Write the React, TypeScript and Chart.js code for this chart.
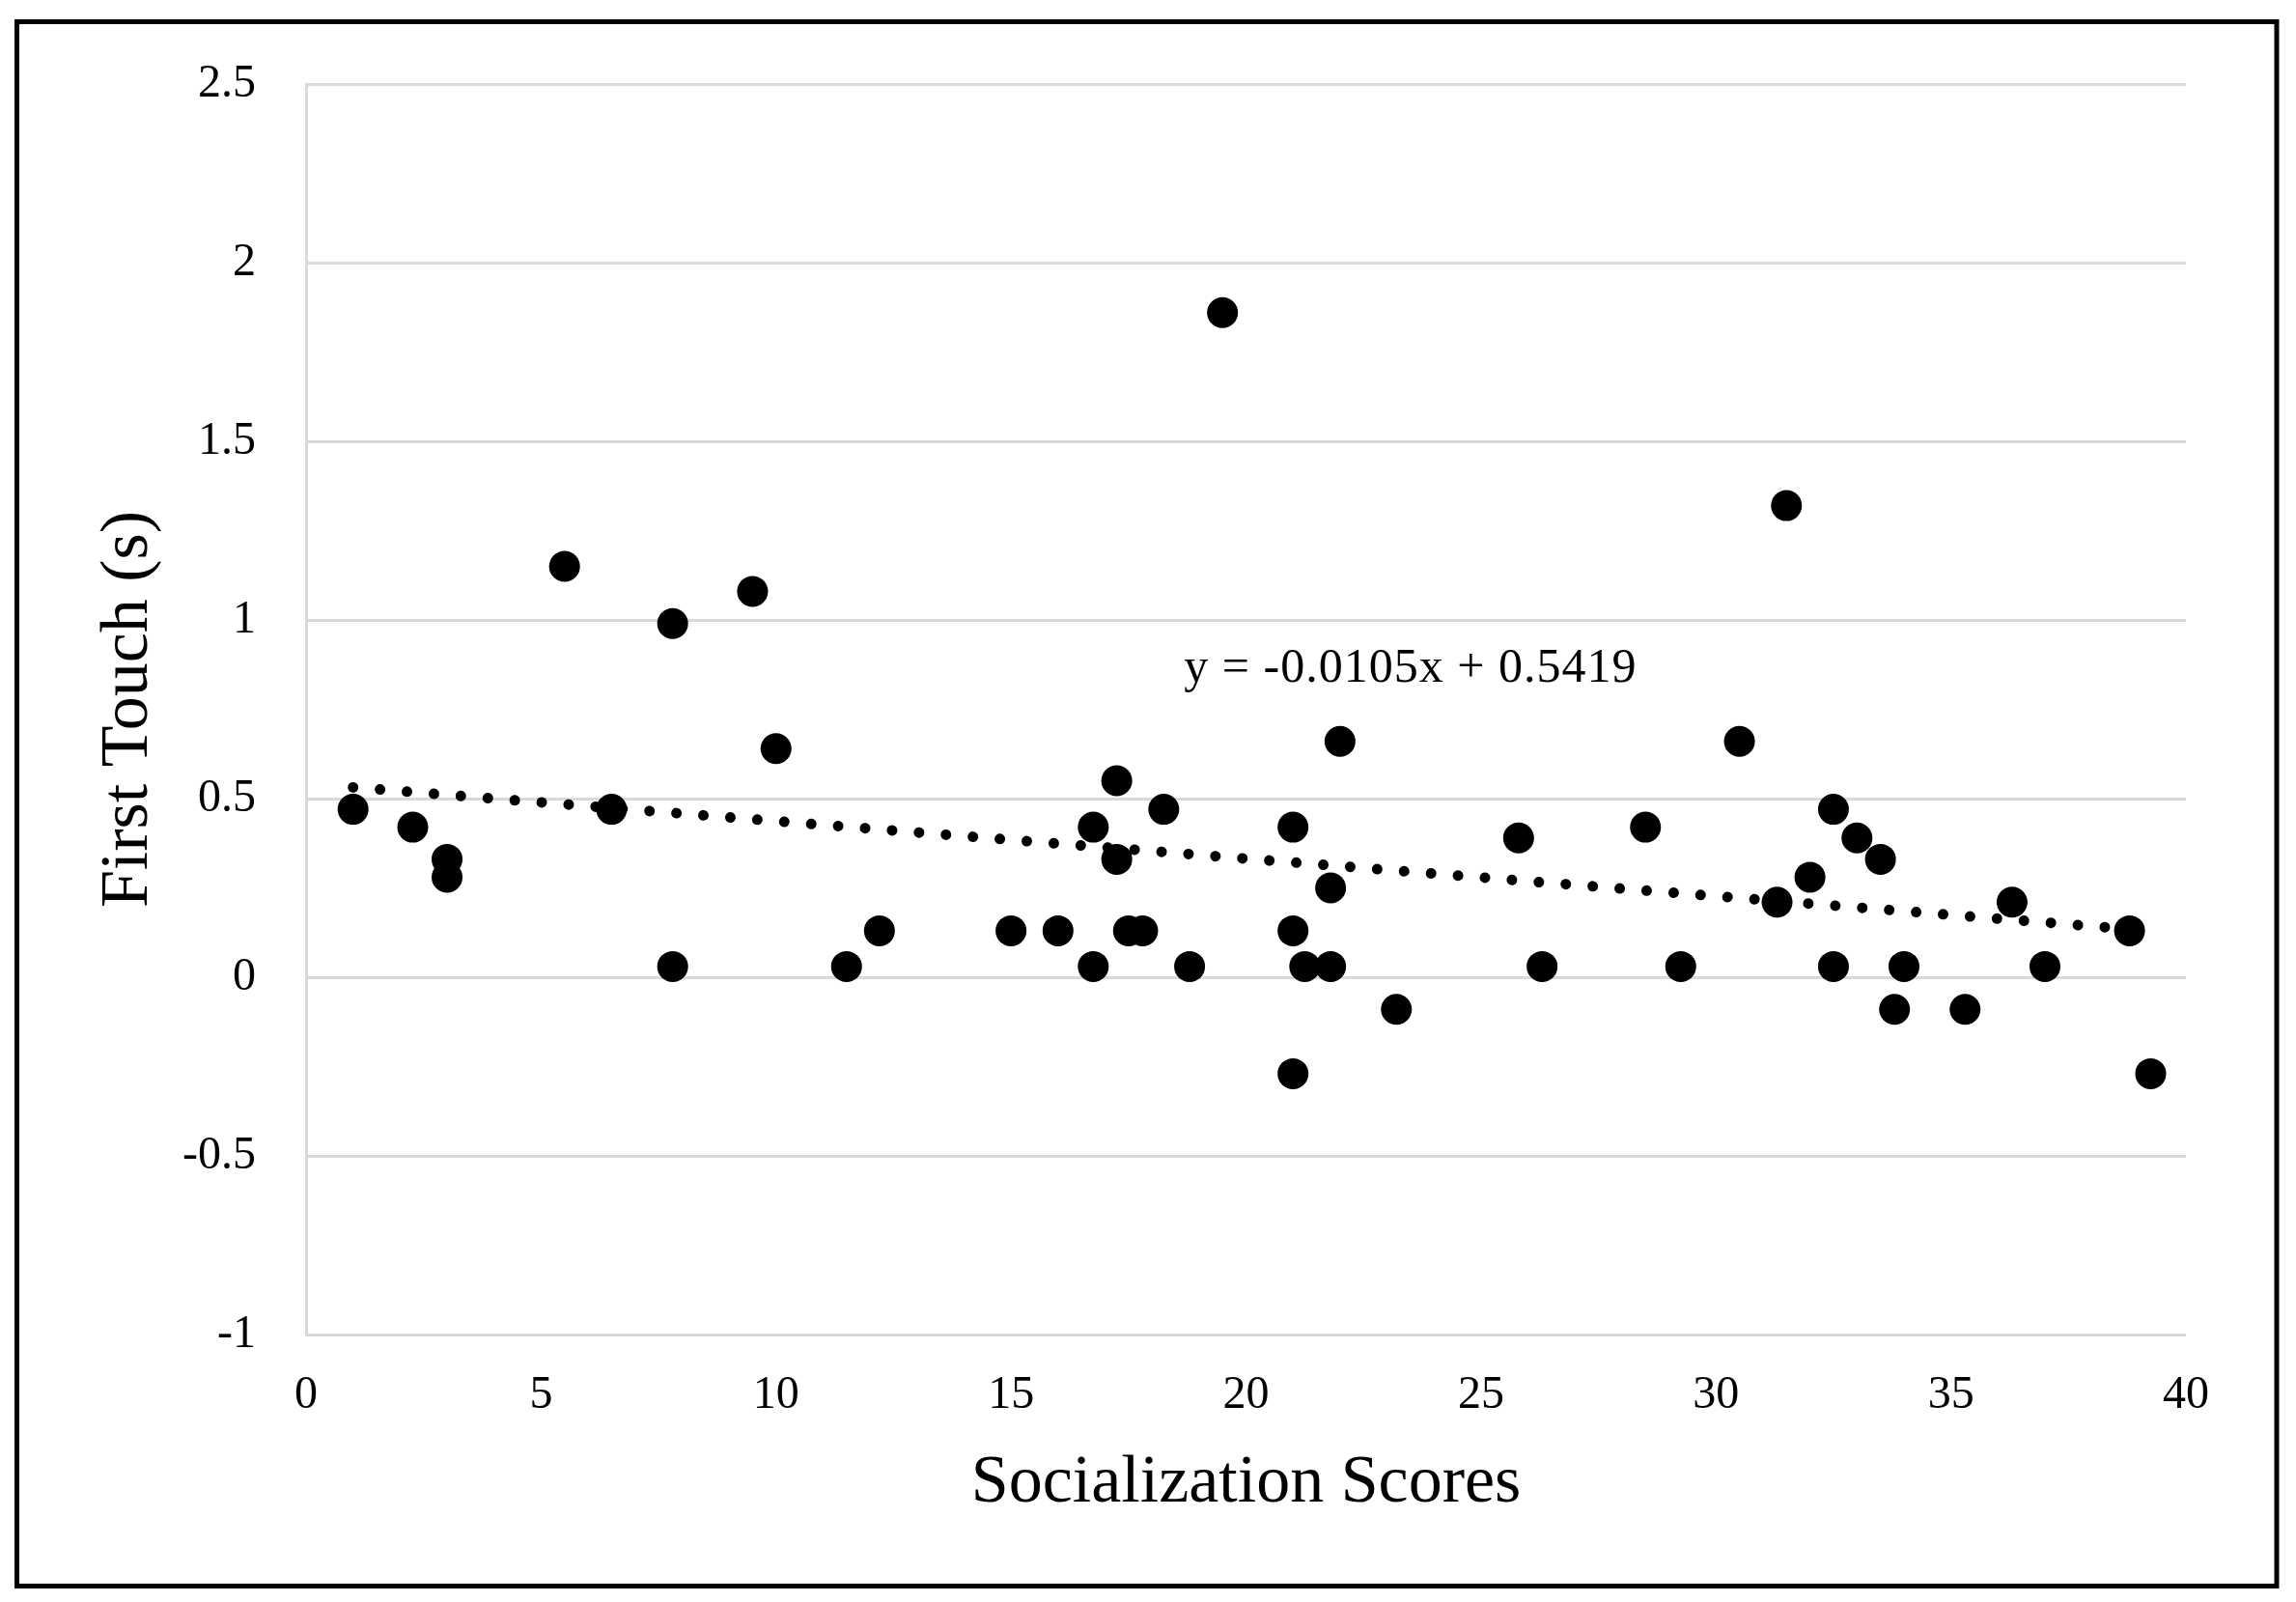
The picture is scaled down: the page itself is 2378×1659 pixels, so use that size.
import React, { useEffect, useRef } from "react";
import { Chart, registerables } from "chart.js";

Chart.register(...registerables);

// ---- Data ----
const socializationScores = [
  1, 2.27, 3, 3, 5.5, 6.5, 7.8, 7.8, 9.5, 10,
  11.5, 12.2, 15, 16, 16.75, 16.75, 17.25, 17.25, 17.5, 17.8,
  18.25, 18.8, 19.5, 21, 21, 21, 21.25, 21.8, 21.8, 22,
  23.2, 25.8, 26.3, 28.5, 29.25, 30.5, 31.3, 31.5, 32, 32.5,
  32.5, 33, 33.5, 33.8, 34, 35.3, 36.3, 37, 38.8, 39.25,
];
const firstTouch = [
  0.47, 0.42, 0.33, 0.28, 1.15, 0.47, 0.99, 0.03, 1.08, 0.64,
  0.03, 0.13, 0.13, 0.13, 0.42, 0.03, 0.55, 0.33, 0.13, 0.13,
  0.47, 0.03, 1.86, 0.42, 0.13, -0.27, 0.03, 0.25, 0.03, 0.66,
  -0.09, 0.39, 0.03, 0.42, 0.03, 0.66, 0.21, 1.32, 0.28, 0.47,
  0.03, 0.39, 0.33, -0.09, 0.03, -0.09, 0.21, 0.03, 0.13, -0.27,
];
const xTickValues = [0, 5, 10, 15, 20, 25, 30, 35, 40];
const xTickLabels = ["0", "5", "10", "15", "20", "25", "30", "35", "40"];
const yTickValues = [-1, -0.5, 0, 0.5, 1, 1.5, 2, 2.5];
const yTickLabels = ["-1", "-0.5", "0", "0.5", "1", "1.5", "2", "2.5"];
const trendSlope = -0.0105;
const trendIntercept = 0.5419;
const trendLabel = "y = -0.0105x + 0.5419";
const trendLabelAt = [23.5, 0.862];
const xTitle = "Socialization Scores";
const yTitle = "First Touch (s)";

const FONT = "'Liberation Serif', 'Times New Roman', serif";

export default function App() {
  const ref = useRef<HTMLCanvasElement | null>(null);

  useEffect(() => {
    const canvas = ref.current;
    if (!canvas) return;

    const points = socializationScores.map((x, i) => ({ x, y: firstTouch[i] }));
    const xMin = Math.min(...socializationScores);
    const xMax = Math.max(...socializationScores);
    const trend = [
      { x: xMin, y: trendSlope * xMin + trendIntercept },
      { x: xMax, y: trendSlope * xMax + trendIntercept },
    ];

    const framePlugin = {
      id: "frame",
      beforeDraw(chart: any) {
        const ctx = chart.ctx;
        ctx.save();
        ctx.fillStyle = "#ffffff";
        ctx.fillRect(0, 0, chart.width, chart.height);
        ctx.strokeStyle = "#000000";
        ctx.lineWidth = 5;
        ctx.strokeRect(17.5, 22.5, 2340.5, 1620);
        ctx.restore();
      },
      afterDatasetsDraw(chart: any) {
        const ctx = chart.ctx;
        const px = chart.scales.x.getPixelForValue(trendLabelAt[0]);
        const py = chart.scales.y.getPixelForValue(trendLabelAt[1]);
        ctx.save();
        ctx.font = `50px ${FONT}`;
        (ctx as any).letterSpacing = "1px";
        ctx.fillStyle = "#000000";
        ctx.textAlign = "center";
        ctx.textBaseline = "middle";
        ctx.fillText(trendLabel, px, py);
        ctx.restore();
      },
    };

    const chart = new Chart(canvas, {
      type: "scatter",
      data: {
        datasets: [
          {
            label: "Trend",
            data: trend,
            showLine: true,
            borderColor: "#000000",
            borderWidth: 11,
            borderDash: [0.001, 28],
            borderCapStyle: "round",
            pointRadius: 0,
            pointHoverRadius: 0,
            fill: false,
          } as any,
          {
            label: "First Touch",
            data: points,
            backgroundColor: "#000000",
            borderWidth: 0,
            pointRadius: 16,
            pointHoverRadius: 16,
            showLine: false,
          },
        ],
      },
      options: {
        responsive: false,
        animation: false,
        devicePixelRatio: 1,
        layout: { padding: { left: 92, top: 87, right: 114, bottom: 80 } },
        plugins: {
          legend: { display: false },
          tooltip: { enabled: false },
        },
        scales: {
          x: {
            type: "linear",
            min: 0,
            max: 40,
            afterBuildTicks(scale: any) {
              scale.ticks = xTickValues.map((v) => ({ value: v }));
            },
            afterFit(scale: any) {
              scale.height = 197;
            },
            grid: { display: false, drawTicks: false },
            border: { display: false },
            ticks: {
              padding: 35,
              color: "#000000",
              font: { family: FONT, size: 48 },
              maxRotation: 0,
              autoSkip: false,
              callback: (_v: any, i: number) => xTickLabels[i],
            },
            title: {
              display: true,
              text: xTitle,
              color: "#000000",
              font: { family: FONT, size: 70 },
              padding: 0,
            },
          },
          y: {
            type: "linear",
            min: -1,
            max: 2.5,
            afterBuildTicks(scale: any) {
              scale.ticks = yTickValues.map((v) => ({ value: v }));
            },
            afterFit(scale: any) {
              scale.width = 225;
            },
            grid: { color: "#d9d9d9", lineWidth: 3, drawTicks: false },
            border: { display: true, color: "#d9d9d9", width: 3 },
            ticks: {
              padding: 52,
              color: "#000000",
              font: { family: FONT, size: 48 },
              autoSkip: false,
              callback: (_v: any, i: number) => yTickLabels[i],
            },
            title: {
              display: true,
              text: yTitle,
              color: "#000000",
              font: { family: FONT, size: 70 },
              padding: 0,
            },
          },
        },
      },
      plugins: [framePlugin],
    });

    return () => chart.destroy();
  }, []);

  return (
    <div
      style={{
        position: "absolute",
        left: 0,
        top: 0,
        width: 2378,
        height: 1659,
        background: "#ffffff",
      }}
    >
      <canvas ref={ref} width={2378} height={1659} style={{ display: "block" }} />
    </div>
  );
}
